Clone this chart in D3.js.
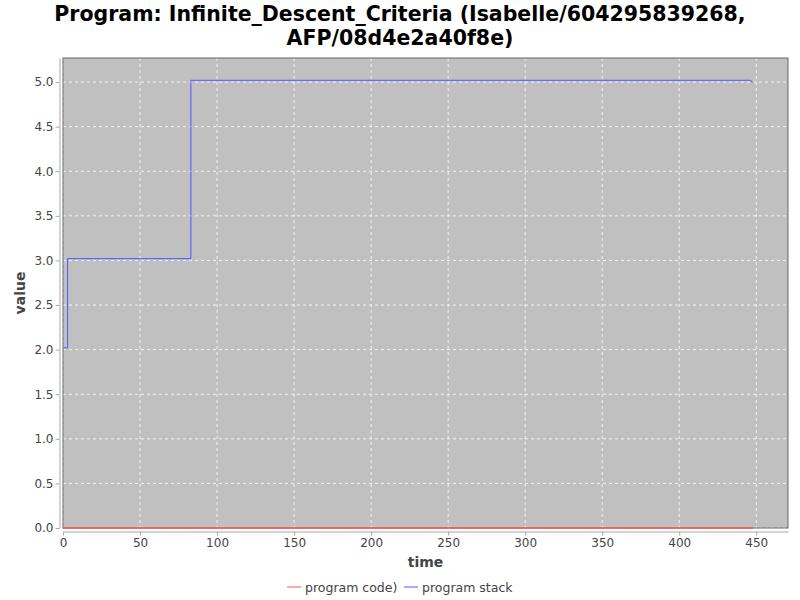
<!DOCTYPE html>
<html><head><meta charset="utf-8">
<script src="https://cdn.jsdelivr.net/npm/d3@7"></script>
<style>body{margin:0;background:#fff;} svg{display:block;}</style>
</head><body>
<svg id="c" width="800" height="600"></svg>
<script>
const titleLines = ["Program: Infinite_Descent_Criteria (Isabelle/604295839268,", "AFP/08d4e2a40f8e)"];
const seriesNames = ["program code)", "program stack"];
const seriesColors = ["#ff5555", "#5555ff"];
const codeTime = [0, 448];
const codeValue = [0, 0];
const stackTime = [0, 3, 3, 83, 83, 446.5, 447, 448];
const stackValue = [2.02, 2.02, 3.02, 3.02, 5.02, 5.02, 5.0, 5.0];
const xTicks = [0, 50, 100, 150, 200, 250, 300, 350, 400, 450];
const yTicks = [0, 0.5, 1, 1.5, 2, 2.5, 3, 3.5, 4, 4.5, 5];

const svg = d3.select("#c");
const L = 63, R = 788, T = 58, B = 528;
const x = d3.scaleLinear().domain([0, 470.6]).range([L, R]);
const y = d3.scaleLinear().domain([0, 5.27]).range([B, T]);

svg.append("rect").attr("x", L).attr("y", T).attr("width", R - L).attr("height", B - T).attr("fill", "#c0c0c0");

const g = svg.append("g");
xTicks.forEach(t => g.append("line").attr("x1", x(t)).attr("x2", x(t)).attr("y1", T).attr("y2", B)
  .attr("stroke", "#ffffff").attr("stroke-width", 0.8).attr("stroke-dasharray", "3,3"));
yTicks.forEach(t => g.append("line").attr("x1", L).attr("x2", R).attr("y1", y(t)).attr("y2", y(t))
  .attr("stroke", "#ffffff").attr("stroke-width", 0.8).attr("stroke-dasharray", "3,3"));

// plot outline
svg.append("rect").attr("x", L).attr("y", T).attr("width", R - L).attr("height", B - T)
  .attr("fill", "none").attr("stroke", "#666").attr("stroke-width", 1);

const line = d3.line().x(d => x(d[0])).y(d => y(d[1]));
svg.append("path").datum(codeTime.map((t, i) => [t, codeValue[i]]))
  .attr("d", line).attr("fill", "none").attr("stroke", seriesColors[0]).attr("stroke-width", 1.5);
svg.append("path").datum(stackTime.map((t, i) => [t, stackValue[i]]))
  .attr("d", line).attr("fill", "none").attr("stroke", seriesColors[1]).attr("stroke-width", 1);

// axes
const xAxis = d3.axisBottom(x).tickValues(xTicks).tickFormat(d3.format("d")).tickSize(4).tickSizeOuter(0);
const xa = svg.append("g").attr("transform", `translate(0,${B + 3.5})`).call(xAxis);
const yAxis = d3.axisLeft(y).tickValues(yTicks).tickFormat(d3.format(".1f")).tickSize(4).tickSizeOuter(0);
const ya = svg.append("g").attr("transform", `translate(${L - 3.5},0)`).call(yAxis);
[xa, ya].forEach(a => {
  a.select(".domain").attr("stroke", "#aaaaaa");
  a.selectAll(".tick line").attr("stroke", "#aaaaaa");
  a.selectAll(".tick text").attr("fill", "#444").attr("font-family", "DejaVu Sans").attr("font-size", 12);
});
xa.selectAll(".tick text").attr("dy", "0.71em").attr("y", 7);
ya.selectAll(".tick text").attr("x", -6);

// labels
svg.append("text").attr("x", (L + R) / 2).attr("y", 567).attr("text-anchor", "middle")
  .attr("font-family", "DejaVu Sans").attr("font-weight", "bold").attr("font-size", 14).attr("fill", "#444").text("time");
svg.append("text").attr("transform", `translate(25,${(T + B) / 2}) rotate(-90)`).attr("text-anchor", "middle")
  .attr("font-family", "DejaVu Sans").attr("font-weight", "bold").attr("font-size", 14).attr("fill", "#444").text("value");

// title
titleLines.forEach((s, i) => svg.append("text").attr("x", 400).attr("y", 21 + i * 24).attr("text-anchor", "middle")
  .attr("font-family", "DejaVu Sans").attr("font-weight", "bold").attr("font-size", 20.5).attr("fill", "#000").text(s));

// legend
const leg = svg.append("g").attr("font-family", "DejaVu Sans").attr("font-size", 12.5).attr("fill", "#444");
const legX = [287, 404];
seriesNames.forEach((n, i) => {
  leg.append("line").attr("x1", legX[i]).attr("x2", legX[i] + 14).attr("y1", 587).attr("y2", 587)
    .attr("stroke", seriesColors[i]).attr("stroke-width", 1);
  leg.append("text").attr("x", legX[i] + 18).attr("y", 591.5).attr("fill", "#444").text(n);
});
</script>
</body></html>
